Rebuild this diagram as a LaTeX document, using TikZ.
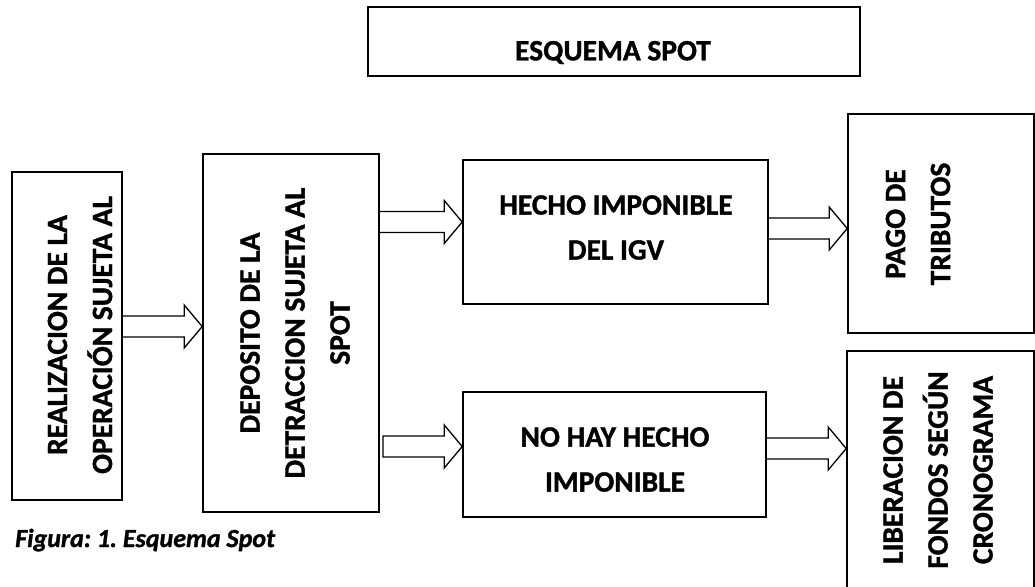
\documentclass[tikz,border=0pt]{standalone}
\usepackage{fontspec}
\setmainfont{Carlito}[BoldFeatures={FakeBold=1.2},BoldItalicFeatures={FakeBold=1.2}]
\usetikzlibrary{calc}
\frenchspacing
\newcommand\myblockarrow[3]{%
  \draw[barrow] ($(#1)+(0,-10.5)$) -- ($(#2)+(-18,-10.5)$) -- ($(#2)+(-18,-21.5)$) -- (#2)
    -- ($(#2)+(-18,21.5)$) -- ($(#2)+(-18,10.5)$) -- ($(#1)+(0,10.5)$) #3;}
\begin{document}
\begin{tikzpicture}[x=1pt,y=-1pt,
  box/.style={draw, line width=1.6pt, inner sep=0pt},
  lbl/.style={font=\fontsize{29.5}{45}\selectfont\bfseries, align=center, inner sep=0pt},
  barrow/.style={draw, line width=1.3pt, line join=miter}]
\useasboundingbox (0,0) rectangle (1035,586);
\clip (0,0) rectangle (1035,586);
\fill[white] (0,0) rectangle (1035,586);
% boxes
\node[box, minimum width=492pt, minimum height=69pt] (tb) at (614,41.5) {};
\node[box, minimum width=110pt, minimum height=328pt] (b1) at (67,336) {};
\node[box, minimum width=176pt, minimum height=358pt] (b2) at (291,333) {};
\node[box, minimum width=305pt, minimum height=144pt] (b3) at (615.5,232) {};
\node[box, minimum width=303pt, minimum height=125pt] (b4) at (614.5,454.5) {};
\node[box, minimum width=186pt, minimum height=219pt] (b5) at (941,223.5) {};
\node[box, minimum width=187pt, minimum height=269pt] (b6) at (940.5,485.5) {};
% texts
\node[lbl] (tt) at (613,52.5) {ESQUEMA SPOT};
\node[lbl, rotate=90] (t1) at (80,335) {REALIZACION DE LA\\OPERACIÓN SUJETA AL};
\node[lbl, rotate=90] (t2) at (295,333) {DEPOSITO DE LA\\DETRACCION SUJETA AL\\SPOT};
\node[lbl] (t3) at (616,227.5) {HECHO IMPONIBLE\\DEL IGV};
\node[lbl] (t4) at (615,459.5) {NO HAY HECHO\\IMPONIBLE};
\node[lbl, rotate=90] (t5) at (918,224) {PAGO DE\\TRIBUTOS};
\node[lbl, rotate=90] (t6) at (938,470) {LIBERACION DE\\FONDOS SEGÚN\\CRONOGRAMA};
\node[font=\fontsize{26}{30}\selectfont\bfseries\itshape, anchor=base west, inner sep=0pt] (cap) at (15,547) {Figura: 1. Esquema Spot};
% arrows
\coordinate (y1) at (0,326.5);
\coordinate (y2) at (0,222);
\coordinate (y3) at (0,446.5);
\coordinate (y4) at (0,228.5);
\coordinate (y5) at (0,448.5);
\coordinate (a3s) at (383,446.5);
\myblockarrow{b1.east |- y1}{b2.west |- y1}{}
\myblockarrow{b2.east |- y2}{b3.west |- y2}{}
\myblockarrow{a3s}{b4.west |- y3}{-- cycle}
\myblockarrow{b3.east |- y4}{b5.west |- y4}{}
\myblockarrow{b4.east |- y5}{b6.west |- y5}{}
\end{tikzpicture}
\end{document}
